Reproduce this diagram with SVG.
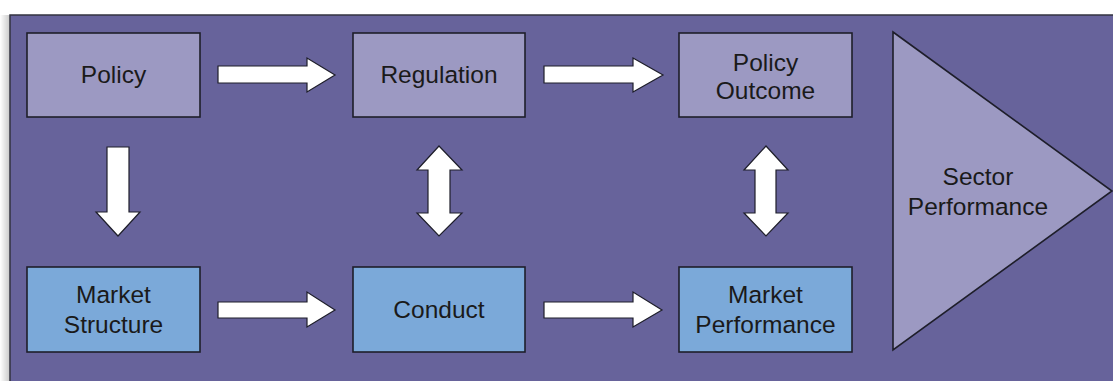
<svg xmlns="http://www.w3.org/2000/svg" width="1113" height="381" viewBox="0 0 1113 381">
<style>
  .top { fill: #9c99c2; stroke: #1e1e2a; stroke-width: 1.6; }
  .bot { fill: #7ba9d9; stroke: #1e1e2a; stroke-width: 1.6; }
  .tri { fill: #9c99c2; stroke: #1e1e2a; stroke-width: 1.6; }
  .arr { fill: #ffffff; stroke: #1e1e2a; stroke-width: 1.2; stroke-linejoin: miter; }
  text { font-family: "Liberation Sans", Arial, sans-serif; font-size: 24.5px; fill: #1a1a1a; text-anchor: middle; }
</style>
<defs>
  <linearGradient id="shadow" x1="0" y1="0" x2="1" y2="0">
    <stop offset="0" stop-color="#ffffff"/>
    <stop offset="1" stop-color="#c8c8c8"/>
  </linearGradient>
</defs>
<rect x="0" y="0" width="1113" height="381" fill="#ffffff"/>
<rect x="0" y="15" width="10" height="366" fill="url(#shadow)"/>
<rect x="10" y="15" width="1110" height="380" fill="#67639b" stroke="#333340" stroke-width="1.5"/>

<g id="sector-performance">
  <polygon class="tri" points="893,32 1112,191 893,350"/>
  <text x="978" y="185">Sector</text>
  <text x="978" y="215">Performance</text>
</g>

<g id="policy">
  <rect class="top" x="27" y="33" width="173" height="84"/>
  <text x="113.5" y="83">Policy</text>
</g>
<g id="regulation">
  <rect class="top" x="353" y="33" width="172" height="84"/>
  <text x="439" y="83">Regulation</text>
</g>
<g id="policy-outcome">
  <rect class="top" x="679" y="33" width="173" height="84"/>
  <text x="765.5" y="71">Policy</text>
  <text x="765.5" y="99">Outcome</text>
</g>
<g id="market-structure">
  <rect class="bot" x="27" y="267" width="173" height="85"/>
  <text x="113.5" y="303">Market</text>
  <text x="113.5" y="333">Structure</text>
</g>
<g id="conduct">
  <rect class="bot" x="353" y="267" width="172" height="85"/>
  <text x="439" y="318">Conduct</text>
</g>
<g id="market-performance">
  <rect class="bot" x="679" y="267" width="173" height="85"/>
  <text x="765.5" y="303">Market</text>
  <text x="765.5" y="333">Performance</text>
</g>

<g id="connectors">
  <!-- Policy -> Regulation -->
  <polygon class="arr" points="218,66 307,66 307,58 335,75 307,92 307,83 218,83"/>
  <!-- Regulation -> Policy Outcome -->
  <polygon class="arr" points="544,66 633,66 633,58 663,75 633,92 633,83 544,83"/>
  <!-- Market Structure -> Conduct -->
  <polygon class="arr" points="218,302 307,302 307,292 335,310 307,327 307,318 218,318"/>
  <!-- Conduct -> Market Performance -->
  <polygon class="arr" points="544,302 633,302 633,292 662,310 633,327 633,318 544,318"/>
  <!-- Policy -> Market Structure -->
  <polygon class="arr" points="107,147 129,147 129,212 140,212 118,236 96,212 107,212"/>
  <!-- Regulation <-> Conduct -->
  <polygon class="arr" points="439,146 462,170 450,170 450,213 462,213 439,236 417,213 428,213 428,170 417,170"/>
  <!-- Policy Outcome <-> Market Performance -->
  <polygon class="arr" points="766,146 788,170 776,170 776,213 788,213 766,236 744,213 755,213 755,170 744,170"/>
</g>
</svg>
